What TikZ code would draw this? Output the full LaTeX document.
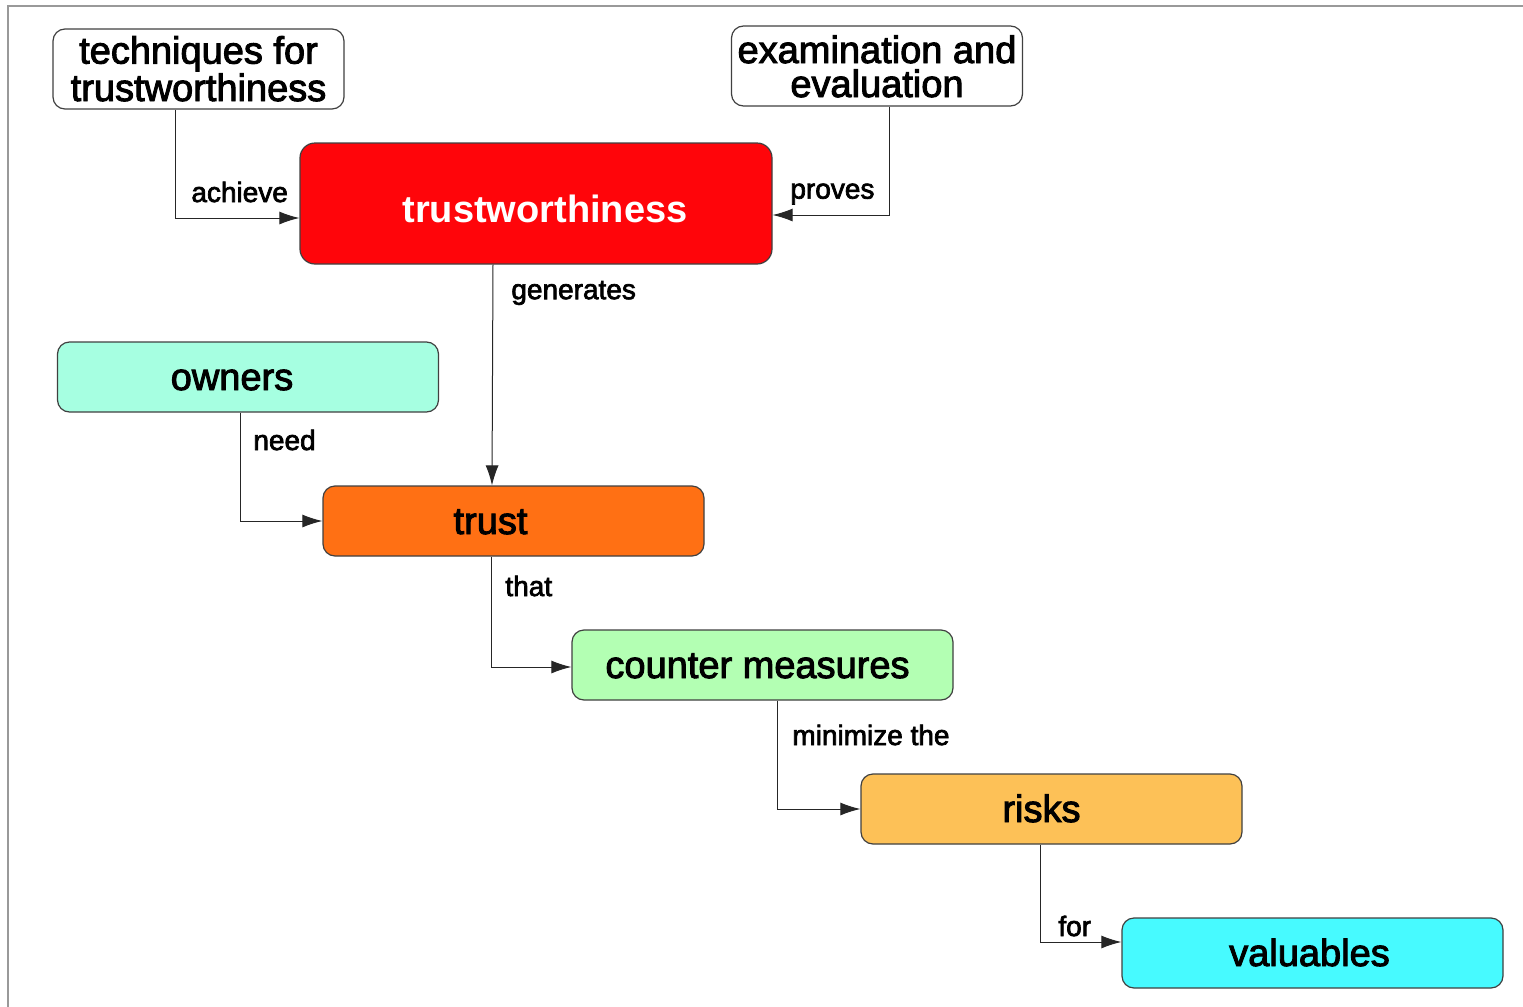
\documentclass[tikz,border=0pt]{standalone}
\usepackage{fontspec}
\setmainfont{Liberation Sans}
\newfontfamily\heavyfont{Liberation Sans}[FakeBold=2.5]
\usetikzlibrary{arrows.meta,calc}

\definecolor{twRed}{RGB}{255,5,10}
\definecolor{ownAqua}{RGB}{166,255,225}
\definecolor{trustOrange}{RGB}{255,112,20}
\definecolor{cmGreen}{RGB}{179,255,179}
\definecolor{riskYellow}{RGB}{253,193,87}
\definecolor{valCyan}{RGB}{71,250,255}

\begin{document}
\begin{tikzpicture}[x=0.5pt,y=-0.5pt,
  concept/.style={draw=black!75, line width=0.6pt, rounded corners=6pt,
    minimum width=190.5pt, minimum height=35pt, inner sep=0pt,
    text height=15pt, text depth=2pt,
    font=\heavyfont\fontsize{19}{17}\selectfont},
  textshift/.style={execute at begin node=\hspace*{#1pt}},
  plainbox/.style={concept, fill=white, minimum width=145.5pt,
    minimum height=40pt, align=center, text depth=0pt},
  conn/.style={draw=black!85, line width=0.5pt, -{Latex[length=10pt,width=6.5pt]}},
  verb/.style={font=\heavyfont\fontsize{14}{16}\selectfont, anchor=west, inner sep=0pt}]

  \useasboundingbox (0,0) rectangle (1523,1007);
  \draw[gray!80, line width=0.8pt] (8,1007) -- (8,6) -- (1523,6);

  % concepts
  \node[plainbox, text height=32pt] (tech) at (198.5,69) {techniques for\\trustworthiness};
  \node[plainbox, text height=31pt] (exam) at (877,66) {examination and\\evaluation};
  \node[concept, fill=twRed, text=white, font=\fontsize{19}{17}\selectfont\bfseries,
    minimum width=236pt, minimum height=60.5pt, rounded corners=7.5pt,
    text height=19pt, text depth=0pt, textshift=9]
    (tw) at (536,203.5) {trustworthiness};
  \node[concept, fill=ownAqua, textshift=-16] (own) at (248,377) {owners};
  \node[concept, fill=trustOrange, textshift=-23] (trust) at (513.5,521) {trust};
  \node[concept, fill=cmGreen, textshift=-5] (cm) at (762.5,665) {counter measures};
  \node[concept, fill=riskYellow, textshift=-10] (risk) at (1051.5,809) {risks};
  \node[concept, fill=valCyan, textshift=-3] (val) at (1312.5,953) {valuables};

  % links
  \draw[conn] ($(tech.south)+(-23.5,0)$) |- ($(tw.west)+(0,14.5)$);
  \draw[conn] ($(exam.south)+(12,0)$) |- ($(tw.east)+(0,11.5)$);
  \draw[conn] ($(tw.south)+(-43,0)$) -- ($(trust.north)+(-21.5,0)$);
  \draw[conn] ($(own.south)+(-8,0)$) |- (trust.west);
  \draw[conn] ($(trust.south)+(-22.5,0)$) |- ($(cm.west)+(0,2)$);
  \draw[conn] ($(cm.south)+(14.5,0)$) |- (risk.west);
  \draw[conn] ($(risk.south)+(-11.5,0)$) |- ($(val.west)+(0,-11)$);

  % link phrases
  \node[verb] (lAchieve) at (191,192) {achieve};
  \node[verb] (lProves) at (790,194) {proves};
  \node[verb] (lGenerates) at (511,293) {generates};
  \node[verb] (lNeed) at (253,440) {need};
  \node[verb] (lThat) at (505,586) {that};
  \node[verb] (lMinimize) at (792,735) {minimize the};
  \node[verb] (lFor) at (1058,926) {for};
\end{tikzpicture}
\end{document}
